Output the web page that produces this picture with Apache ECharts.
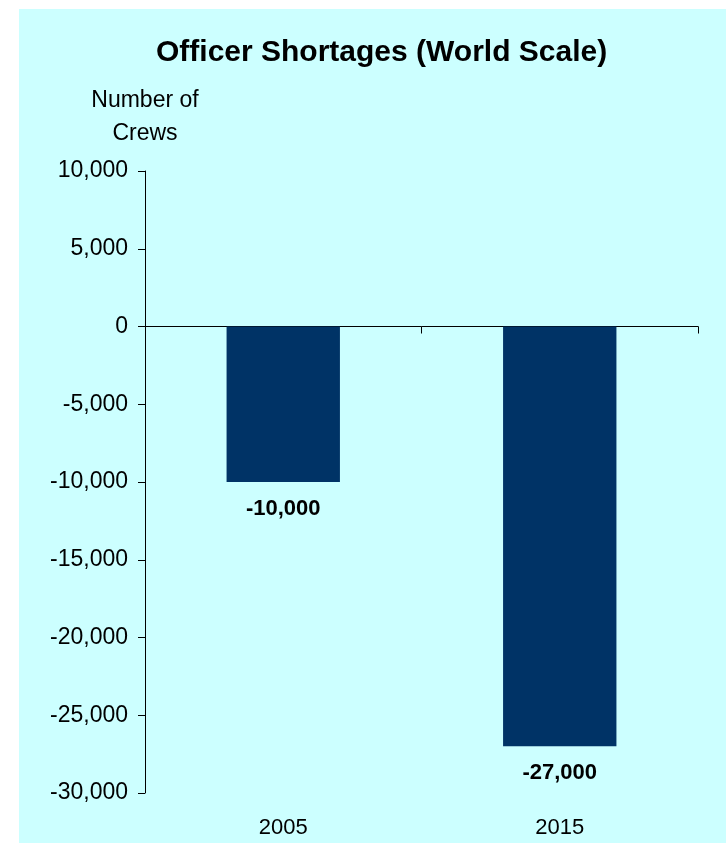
<!DOCTYPE html>
<html>
<head>
<meta charset="utf-8">
<script src="https://cdn.jsdelivr.net/npm/echarts@6/dist/echarts.min.js"></script>
<style>
  html, body { margin: 0; padding: 0; background: #ffffff; }
  #chart { width: 726px; height: 843px; }
</style>
</head>
<body>
<div id="chart"></div>
<script>
const years = ['2005', '2015'];
const shortage = [-10000, -27000];
const yTicks = { min: -30000, max: 10000, step: 5000 };

const font = 'Liberation Sans, Arial, sans-serif';
const fmt = (v) => Number(v).toLocaleString('en-US');

const chart = echarts.init(document.getElementById('chart'), null, { renderer: 'canvas' });

chart.setOption({
  animation: false,
  backgroundColor: '#ffffff',
  graphic: [
    {
      type: 'rect',
      z: -10,
      silent: true,
      shape: { x: 19, y: 9, width: 707, height: 834 },
      style: { fill: '#CCFFFF' }
    }
  ],
  title: {
    text: 'Officer Shortages (World Scale)',
    left: 156,
    top: 38,
    padding: 0,
    textStyle: { fontFamily: font, fontSize: 30, fontWeight: 'bold', color: '#000' }
  },
  grid: { left: 145, right: 28, top: 171, bottom: 50, containLabel: false },
  xAxis: [
    {
      type: 'category',
      data: years,
      axisLine: { onZero: true, lineStyle: { color: '#000', width: 1 } },
      axisTick: { show: true, length: 7, lineStyle: { color: '#000' } },
      axisLabel: { show: false },
      splitLine: { show: false }
    },
    {
      type: 'category',
      data: years,
      position: 'bottom',
      axisLine: { show: false },
      axisTick: { show: false },
      axisLabel: { margin: 24, fontFamily: font, fontSize: 22, color: '#000' },
      splitLine: { show: false }
    }
  ],
  yAxis: {
    type: 'value',
    min: yTicks.min,
    max: yTicks.max,
    interval: yTicks.step,
    name: 'Number of\nCrews',
    nameLocation: 'end',
    nameGap: 21,
    nameTextStyle: { fontFamily: font, fontSize: 23, color: '#000', lineHeight: 33, align: 'center' },
    axisLine: { show: true, lineStyle: { color: '#000', width: 1 } },
    axisTick: { show: true, length: 7, lineStyle: { color: '#000' } },
    axisLabel: { margin: 17, fontFamily: font, fontSize: 23, color: '#000', formatter: fmt },
    splitLine: { show: false }
  },
  series: [
    {
      type: 'bar',
      xAxisIndex: 0,
      data: shortage,
      barWidth: '41%',
      itemStyle: { color: '#003366' },
      label: {
        show: true,
        position: 'bottom',
        distance: 16,
        fontFamily: font,
        fontSize: 22,
        fontWeight: 'bold',
        color: '#000',
        formatter: (p) => fmt(p.value)
      }
    }
  ]
});
</script>
</body>
</html>
